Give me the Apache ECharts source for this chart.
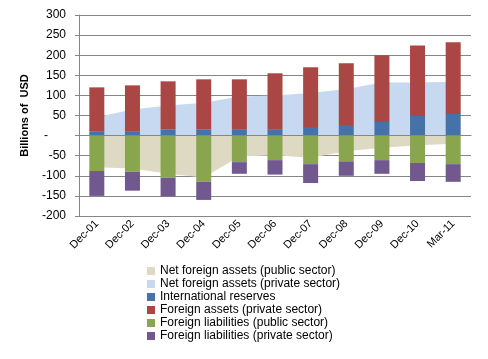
<!DOCTYPE html>
<html>
<head>
<meta charset="utf-8">
<script src="https://cdn.jsdelivr.net/npm/echarts@6/dist/echarts.min.js"></script>
<style>html,body{margin:0;padding:0;background:#fff;}#c{width:488px;height:359px;}</style>
</head>
<body>
<div id="c"></div>
<script>
const categories = ['Dec-01','Dec-02','Dec-03','Dec-04','Dec-05','Dec-06','Dec-07','Dec-08','Dec-09','Dec-10','Mar-11'];
const netPublic = [-79,-82,-95,-104,-52,-49,-55,-39,-30,-24,-20];
const netPrivate = [46,65,75,82,97,100,106,116,132,132,134];
const reserves = [11,11,15,15,16,16,19,24,34,49,54];
const assetsPrivate = [109,114,120,125,124,139,151,156,166,175,178];
const liabPublic = [-88,-90,-105,-115,-66,-61,-71,-64,-61,-68,-71];
const liabPrivate = [-62,-47,-46,-45,-29,-36,-47,-36,-34,-45,-44];
const yMin = -200, yMax = 300, yStep = 50;
const names = ['Net foreign assets (public sector)','Net foreign assets (private sector)','International reserves','Foreign assets (private sector)','Foreign liabilities (public sector)','Foreign liabilities (private sector)'];
const colors = ['#DDD9C3','#C6D9F1','#4572A7','#AA4643','#89A54E','#71588F'];

const font = 'Liberation Sans, Arial, sans-serif';
const chart = echarts.init(document.getElementById('c'));
function areaSeries(i, data){
  return {name:names[i], type:'line', data:data, symbol:'none', z:1,
    lineStyle:{width:0}, itemStyle:{color:colors[i]}, areaStyle:{color:colors[i], opacity:1, origin:0}};
}
function barSeries(i, data){
  return {name:names[i], type:'bar', stack:'bars', data:data, barWidth:15, z:2,
    itemStyle:{color:colors[i]}};
}
chart.setOption({
  animation:false,
  textStyle:{fontFamily:font},
  grid:{left:79, right:17, top:15, bottom:143},
  legend:{orient:'vertical', left:142, top:260, icon:'rect', itemWidth:8, itemHeight:8, itemGap:1,
    textStyle:{fontSize:12, color:'#000', fontFamily:font}, data:names},
  xAxis:[
    {type:'category', data:categories, position:'bottom', axisLine:{show:false, onZero:false}, axisTick:{show:false},
     axisLabel:{rotate:45, fontSize:11, color:'#000', margin:6, interval:0}},
    {type:'category', data:categories, position:'top', z:10, axisLine:{onZero:true, lineStyle:{color:'#868686', width:1}},
     axisTick:{inside:true, length:4, lineStyle:{color:'#868686'}}, axisLabel:{show:false}}
  ],
  yAxis:{type:'value', min:yMin, max:yMax, interval:yStep,
    name:'Billions of  USD', nameLocation:'middle', nameGap:49, nameRotate:90,
    nameTextStyle:{fontWeight:'bold', fontSize:11, color:'#000'},
    axisLine:{show:true, lineStyle:{color:'#868686'}},
    axisTick:{show:true, length:4, lineStyle:{color:'#868686'}},
    splitLine:{lineStyle:{color:'#868686', width:1}},
    axisLabel:{fontSize:12, color:'#000', margin:13,
      formatter:function(v){return v===0 ? '{d|-}' : String(v);},
      rich:{d:{fontSize:12, color:'#000', padding:[0,18,0,0]}}}},
  series:[
    areaSeries(0, netPublic),
    areaSeries(1, netPrivate),
    barSeries(2, reserves),
    barSeries(3, assetsPrivate),
    barSeries(4, liabPublic),
    barSeries(5, liabPrivate)
  ]
});
</script>
</body>
</html>
